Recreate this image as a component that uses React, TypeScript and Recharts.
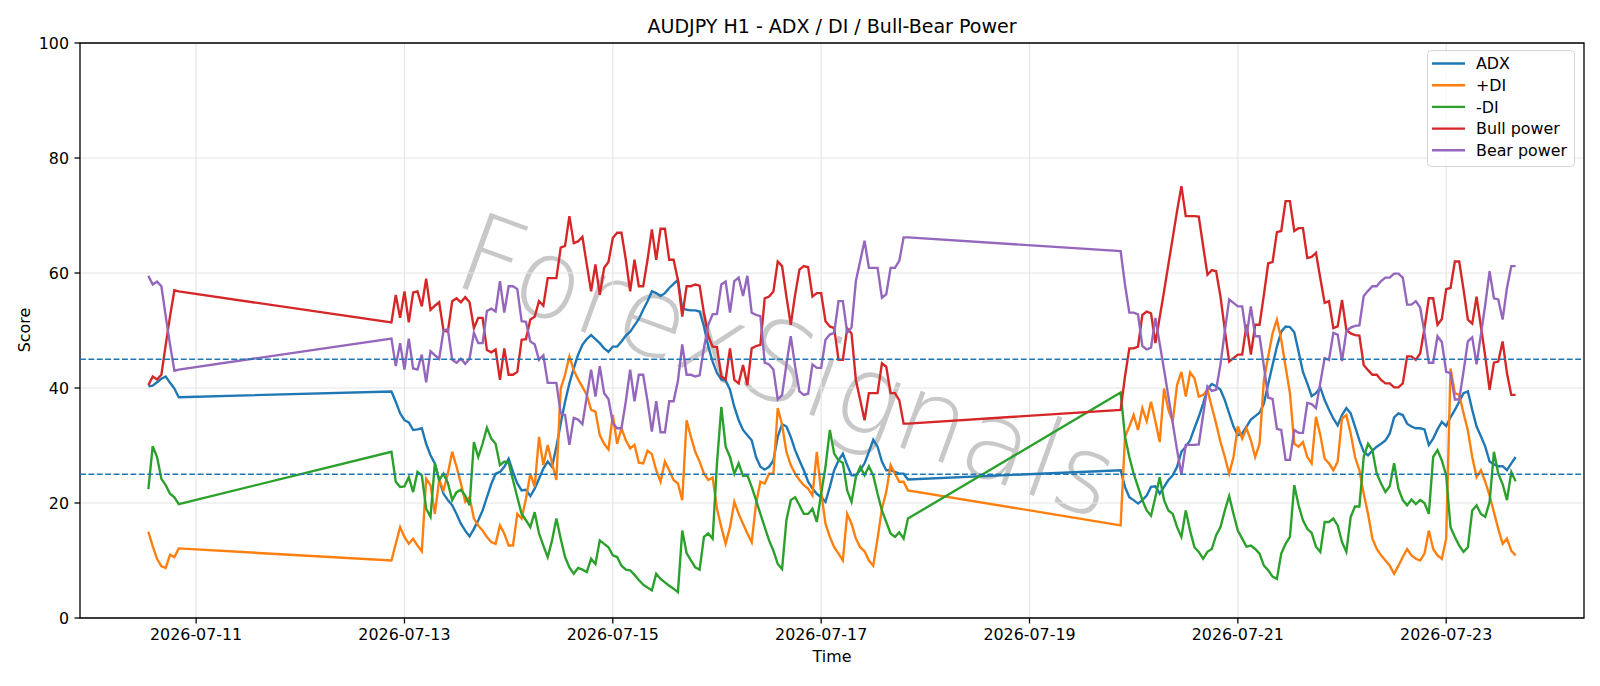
import React from "react"
import { CartesianGrid, Line, LineChart, ReferenceArea, ReferenceLine, XAxis, YAxis } from "recharts"

// H1 candles, grouped by trading session (weekend gaps between them)
const sessionStarts = ["2026-07-10T13:00:00Z", "2026-07-12T21:00:00Z", "2026-07-19T21:00:00Z"]

const adx = [
  [40.3, 40.4, 41.0, 41.6, 42.0, 40.9, 39.9, 38.4],
  [
    39.4, 37.6, 35.6, 34.4, 34.0, 32.7, 32.8, 33.0, 30.3, 28.3, 26.9, 24.0, 21.6, 20.5, 19.6, 18.1, 16.4, 15.2, 14.2, 15.5, 17.0, 18.7, 21.0, 23.3,
    25.1, 25.4, 26.3, 27.7, 25.4, 23.4, 22.2, 22.3, 21.2, 22.5, 24.2, 26.0, 27.2, 26.3, 29.8, 33.8, 37.6, 40.8, 43.4, 45.8, 47.5, 48.5, 49.2, 48.5,
    47.8, 46.9, 46.3, 47.2, 47.2, 48.1, 49.1, 49.8, 50.9, 52.0, 53.6, 55.1, 56.8, 56.5, 56.0, 56.5, 57.4, 58.1, 58.8, 53.9, 53.6, 53.5, 53.5, 53.3,
    50.7, 47.2, 44.6, 42.6, 41.5, 41.3, 39.7, 36.7, 34.4, 32.7, 31.8, 30.9, 28.0, 26.3, 25.8, 26.3, 27.4, 31.5, 33.7, 33.3, 31.5, 29.2, 27.4, 25.7,
    23.7, 22.5, 21.6, 21.0, 20.2, 22.8, 25.7, 27.4, 28.6, 26.6, 24.8, 24.8, 25.7, 26.9, 28.9, 31.0, 29.8, 27.2, 25.7, 25.7, 25.4, 25.1, 25.1, 24.1,
  ],
  [
    25.7, 22.8, 21.0, 20.5, 19.9, 20.5, 21.3, 22.8, 22.9, 21.6, 22.8, 24.0, 24.8, 26.3, 28.9, 29.8, 30.9, 33.0, 35.0, 37.3, 39.8, 40.7, 40.3, 39.7,
    37.9, 35.6, 33.3, 31.8, 32.1, 33.3, 34.5, 35.1, 35.7, 37.3, 40.7, 44.0, 47.2, 49.8, 50.7, 50.6, 49.7, 46.3, 42.8, 40.8, 38.6, 39.1, 40.1,
    37.9, 36.2, 34.7, 33.5, 35.3, 36.5, 35.6, 33.3, 30.9, 28.9, 28.3, 29.1, 29.8, 30.3, 30.9, 32.1, 34.9, 35.6, 35.3, 33.8, 33.3, 33.0, 33.0, 32.8,
    30.1, 31.2, 32.8, 34.1, 33.4, 34.9, 36.2, 37.6, 39.1, 39.4, 36.2, 33.3, 31.6, 29.8, 27.2, 26.7, 26.4, 26.4, 25.7, 26.9, 28.0,
  ],
]

const plusDi = [
  [15.0, 12.5, 10.3, 9.0, 8.7, 11.0, 10.6, 12.1],
  [
    10.0, 12.9, 15.8, 14.1, 12.9, 13.8, 12.6, 11.6, 24.2, 23.1, 18.1, 24.0, 22.2, 25.1, 28.9, 26.3, 23.4, 20.2, 21.0, 17.3, 16.1, 15.2, 14.1, 13.2,
    12.9, 16.1, 14.7, 12.6, 12.6, 18.1, 17.3, 20.8, 25.1, 22.8, 31.5, 26.6, 30.1, 26.9, 24.0, 39.9, 42.3, 45.5, 43.1, 41.5, 40.2, 38.8, 36.2, 35.9,
    31.8, 30.3, 29.3, 35.3, 30.3, 33.0, 30.9, 29.5, 30.1, 27.0, 26.9, 29.1, 28.5, 25.7, 23.7, 27.2, 25.7, 24.0, 23.4, 20.5, 34.4, 31.5, 28.9, 27.2,
    25.1, 24.0, 24.4, 19.0, 15.8, 12.9, 15.8, 20.2, 18.1, 16.4, 14.7, 13.2, 19.9, 23.7, 23.4, 25.1, 25.1, 36.5, 33.6, 28.9, 26.6, 25.1, 24.0, 23.1,
    22.5, 21.3, 28.9, 21.9, 16.4, 14.1, 12.3, 11.2, 10.0, 18.1, 16.4, 13.8, 12.3, 11.6, 10.0, 9.1, 13.8, 19.0, 21.9, 26.6, 25.1, 23.7, 23.7, 22.2,
  ],
  [
    16.1, 31.5, 33.3, 35.3, 32.7, 36.5, 34.2, 37.6, 34.2, 30.6, 39.9, 36.2, 34.2, 40.5, 42.8, 38.5, 42.7, 41.7, 38.5, 38.8, 39.7, 36.7, 33.8, 30.6,
    28.0, 25.1, 28.0, 33.3, 31.2, 33.0, 30.9, 28.0, 30.3, 41.4, 45.5, 49.5, 51.9, 48.4, 43.7, 39.1, 30.3, 29.8, 30.6, 28.0, 26.9, 35.0, 31.8,
    27.7, 26.9, 25.7, 27.2, 34.7, 35.3, 32.1, 28.0, 25.7, 21.6, 18.1, 13.8, 12.0, 10.9, 10.0, 9.1, 7.7, 9.1, 10.6, 12.0, 10.9, 10.3, 10.0, 11.2,
    15.2, 12.0, 10.9, 10.3, 13.8, 43.4, 39.1, 38.8, 35.6, 32.6, 28.0, 24.5, 25.7, 23.7, 21.3, 18.4, 15.5, 12.9, 13.8, 11.7, 10.9,
  ],
]

const minusDi = [
  [22.4, 29.9, 28.0, 24.2, 23.1, 21.6, 21.0, 19.8],
  [
    28.9, 23.7, 22.8, 22.9, 24.5, 21.9, 25.4, 24.8, 19.0, 17.6, 26.9, 24.0, 25.1, 23.5, 20.5, 21.9, 22.3, 21.3, 19.6, 30.6, 28.0, 30.3, 33.1, 31.2,
    30.3, 26.6, 27.2, 27.0, 24.0, 21.0, 18.1, 17.0, 15.8, 18.4, 14.7, 12.6, 10.6, 13.5, 17.3, 13.8, 10.6, 8.8, 7.7, 8.7, 8.4, 8.0, 10.3, 9.4,
    13.5, 12.9, 12.3, 10.9, 10.6, 9.1, 8.4, 8.3, 7.5, 6.6, 5.8, 5.3, 4.8, 7.7, 6.8, 6.2, 5.6, 5.1, 4.5, 15.2, 11.3, 10.0, 8.8, 8.4,
    14.1, 14.7, 13.8, 26.9, 36.7, 29.8, 28.0, 25.1, 26.9, 24.7, 24.8, 22.8, 20.5, 18.1, 15.8, 13.5, 11.7, 9.4, 8.5, 17.0, 20.5, 21.0, 19.6, 18.1,
    18.1, 19.0, 16.7, 21.6, 26.3, 32.7, 28.6, 27.4, 27.0, 22.2, 20.2, 24.5, 26.3, 24.8, 26.4, 24.8, 21.6, 18.7, 16.7, 14.7, 14.1, 14.9, 13.8, 17.3,
  ],
  [
    39.2, 31.5, 28.0, 25.1, 22.8, 20.5, 18.7, 17.8, 21.0, 24.5, 20.5, 18.7, 18.1, 15.8, 14.1, 18.7, 15.2, 12.3, 11.5, 10.3, 11.5, 12.0, 14.4, 15.8,
    18.7, 21.2, 18.1, 15.2, 13.8, 12.4, 12.6, 12.0, 11.2, 9.1, 8.3, 7.2, 6.8, 11.2, 12.9, 14.1, 23.1, 19.6, 17.0, 15.5, 14.8, 12.4, 11.5,
    16.7, 16.7, 17.3, 16.1, 13.2, 11.5, 17.6, 19.4, 19.4, 28.0, 30.3, 29.2, 25.1, 23.4, 21.9, 22.9, 26.9, 22.5, 20.5, 19.6, 20.6, 19.8, 20.5, 20.0,
    18.1, 28.0, 29.2, 27.4, 24.8, 15.8, 14.1, 12.6, 11.5, 12.3, 18.7, 19.6, 18.1, 17.6, 20.2, 28.9, 25.1, 23.3, 20.5, 25.4, 23.8,
  ],
]

const bullPower = [
  [40.5, 42.0, 41.5, 42.3, 47.5, 52.5, 57.0, 56.8],
  [
    51.4, 56.2, 52.2, 56.8, 51.4, 56.6, 56.8, 54.2, 59.0, 53.6, 54.3, 54.9, 50.0, 49.8, 55.1, 55.6, 54.9, 55.8, 54.9, 50.4, 52.2, 52.2, 46.6, 46.2,
    46.7, 41.4, 46.9, 42.3, 42.3, 42.8, 48.4, 48.5, 51.9, 52.4, 55.1, 54.3, 59.1, 59.1, 59.1, 64.4, 64.7, 69.9, 65.2, 65.5, 66.3, 61.5, 56.8, 61.5,
    56.2, 60.9, 61.9, 66.1, 67.0, 67.0, 62.3, 56.8, 62.3, 57.7, 57.7, 62.3, 67.6, 62.3, 67.7, 67.7, 62.3, 62.3, 58.8, 52.4, 57.7, 57.7, 58.0, 57.8,
    53.0, 49.0, 47.2, 47.1, 42.0, 41.5, 46.9, 41.4, 40.8, 44.0, 40.5, 46.9, 47.3, 47.5, 55.6, 55.9, 56.8, 62.0, 61.2, 55.9, 51.0, 56.2, 60.6, 61.2,
    61.0, 55.9, 56.5, 56.5, 51.6, 50.7, 50.4, 44.9, 44.9, 50.4, 49.5, 41.4, 37.9, 34.4, 39.1, 39.1, 39.1, 44.3, 43.7, 39.1, 39.1, 37.9, 33.8, 33.8,
  ],
  [
    36.2, 42.0, 46.9, 46.9, 47.2, 52.7, 53.3, 53.0, 47.8, 52.3, 56.8, 61.5, 66.1, 70.8, 75.1, 69.9, 69.9, 69.9, 69.8, 64.7, 59.7, 60.5, 60.3, 55.9,
    50.1, 44.6, 45.2, 45.8, 45.8, 51.0, 45.8, 51.0, 51.0, 56.2, 61.7, 61.9, 67.1, 67.3, 72.5, 72.5, 67.3, 67.8, 67.8, 62.6, 62.8, 63.5, 59.1,
    54.8, 55.1, 50.4, 50.7, 55.3, 50.1, 49.5, 49.2, 49.1, 44.0, 43.1, 42.3, 42.3, 41.4, 40.8, 40.8, 40.1, 40.1, 40.8, 45.5, 45.5, 44.9, 46.0, 50.4,
    55.6, 55.6, 51.0, 52.0, 57.2, 57.4, 62.0, 62.0, 57.1, 51.9, 51.2, 55.9, 50.7, 45.5, 39.7, 44.4, 44.6, 48.1, 42.6, 38.8, 38.8,
  ],
]

const bearPower = [
  [59.5, 58.0, 58.5, 57.7, 52.5, 47.5, 43.0, 43.2],
  [
    48.6, 43.8, 47.8, 43.2, 48.6, 43.4, 43.2, 45.8, 41.0, 46.4, 45.7, 45.1, 50.0, 50.2, 44.9, 44.4, 45.1, 44.2, 45.1, 49.6, 47.8, 47.8, 53.4, 53.8,
    53.3, 58.6, 53.1, 57.7, 57.7, 57.2, 51.6, 51.5, 48.1, 47.6, 44.9, 45.7, 40.9, 40.9, 40.9, 35.6, 35.3, 30.1, 34.8, 34.5, 33.7, 38.5, 43.2, 38.5,
    43.8, 39.1, 38.1, 33.9, 33.0, 33.0, 37.7, 43.2, 37.7, 42.3, 42.3, 37.7, 32.4, 37.7, 32.3, 32.3, 37.7, 37.7, 41.2, 47.6, 42.3, 42.3, 42.0, 42.2,
    47.0, 51.0, 52.8, 52.9, 58.0, 58.5, 53.1, 58.6, 59.2, 56.0, 59.5, 53.1, 52.7, 52.5, 44.4, 44.1, 43.2, 38.0, 38.8, 44.1, 49.0, 43.8, 39.4, 38.8,
    39.0, 44.1, 43.5, 43.5, 48.4, 49.3, 49.6, 55.1, 55.1, 49.6, 50.5, 58.6, 62.1, 65.6, 60.9, 60.9, 60.9, 55.7, 56.3, 60.9, 60.9, 62.1, 66.2, 66.2,
  ],
  [
    63.8, 58.0, 53.1, 53.1, 52.8, 47.3, 46.7, 47.0, 52.2, 47.7, 43.2, 38.5, 33.9, 29.2, 24.9, 30.1, 30.1, 30.1, 30.2, 35.3, 40.3, 39.5, 39.7, 44.1,
    49.9, 55.4, 54.8, 54.2, 54.2, 49.0, 54.2, 49.0, 49.0, 43.8, 38.3, 38.1, 32.9, 32.7, 27.5, 27.5, 32.7, 32.2, 32.2, 37.4, 37.2, 36.5, 40.9,
    45.2, 44.9, 49.6, 49.3, 44.7, 49.9, 50.5, 50.8, 50.9, 56.0, 56.9, 57.7, 57.7, 58.6, 59.2, 59.2, 59.9, 59.9, 59.2, 54.5, 54.5, 55.1, 54.0, 49.6,
    44.4, 44.4, 49.0, 48.0, 42.8, 42.6, 38.0, 38.0, 42.9, 48.1, 48.8, 44.1, 49.3, 54.5, 60.3, 55.6, 55.4, 51.9, 57.4, 61.2, 61.2,
  ],
]

const dateTicks = ["2026-07-11", "2026-07-13", "2026-07-15", "2026-07-17", "2026-07-19", "2026-07-21", "2026-07-23"]
const scoreTicks = [0, 20, 40, 60, 80, 100]
const levels = [25, 45]

const series = [
  { key: "adx", name: "ADX", color: "#1f77b4" },
  { key: "pdi", name: "+DI", color: "#ff7f0e" },
  { key: "mdi", name: "-DI", color: "#2ca02c" },
  { key: "bull", name: "Bull power", color: "#d62728" },
  { key: "bear", name: "Bear power", color: "#9467bd" },
]

// x is measured in hours from 2026-07-13 00:00 UTC
const ORIGIN = Date.UTC(2026, 6, 13)
const HOUR = 3600 * 1000
const toHours = (iso: string) => (Date.parse(iso) - ORIGIN) / HOUR

const rows: any[] = []
sessionStarts.forEach((start, s) => {
  const t0 = toHours(start)
  adx[s].forEach((v, i) => {
    rows.push({
      t: t0 + i,
      adx: v,
      pdi: plusDi[s][i],
      mdi: minusDi[s][i],
      bull: bullPower[s][i],
      bear: bearPower[s][i],
    })
  })
})

const tickHours = dateTicks.map(d => toHours(d + "T00:00:00Z"))
const tFirst = rows[0].t
const tLast = rows[rows.length - 1].t
const pad = (tLast - tFirst) * 0.05
const xDomain = [tFirst - pad, tLast + pad]

const FONT = "'DejaVu Sans', sans-serif"
const W = 1600
const H = 686
const PT = 114.29 / 72 // px per point
const FS = 10 * PT

// legend drawn as its own little svg so the handles stay crisp
const LegendBox = () => (
  <svg width={W} height={H} style={{ position: "absolute", left: 0, top: 0 }} fontFamily={FONT}>
    <rect x={1427.5} y={50.5} width={147} height={116} rx={4} fill="#fff" fillOpacity={0.8} stroke="#d4d4d4" strokeWidth={1} />
    {series.map((s, i) => {
      const cy = 63.5 + i * 21.7
      return (
        <g key={s.key}>
          <line x1={1432} x2={1465} y1={cy} y2={cy} stroke={s.color} strokeWidth={1.5 * PT} />
          <text x={1476} y={cy} dy="0.36em" fontSize={FS} fill="#000">{s.name}</text>
        </g>
      )
    })}
  </svg>
)

const Watermark = () => (
  <svg width={W} height={H} style={{ position: "absolute", left: 0, top: 0 }}>
    <text
      x={788} y={366}
      textAnchor="middle"
      dominantBaseline="central"
      transform="rotate(20 788 366)"
      fontFamily={FONT}
      fontWeight={200}
      fontSize={110}
      fill="#c8c8c8">
      ForexSignals
    </text>
  </svg>
)

const Labels = () => (
  <svg width={W} height={H} style={{ position: "absolute", left: 0, top: 0 }} fontFamily={FONT}>
    <text x={832} y={33} textAnchor="middle" fontSize={12 * PT} fill="#000">
      AUDJPY H1 - ADX / DI / Bull-Bear Power
    </text>
    <text x={832} y={662} textAnchor="middle" fontSize={FS} fill="#000">Time</text>
    <text transform="translate(30 330) rotate(-90)" textAnchor="middle" fontSize={FS} fill="#000">Score</text>
  </svg>
)

export default function App() {
  return (
    <div style={{ position: "absolute", left: 0, top: 0, width: W, height: H, background: "#fff", fontFamily: FONT }}>
      <Watermark />
      <div style={{ position: "absolute", left: 0, top: 0 }}>
        <LineChart width={W} height={H} data={rows} margin={{ top: 43, right: 16, bottom: 0, left: 0 }}>
          <CartesianGrid stroke="#e6e6e6" strokeWidth={1.2} />
          <XAxis
            dataKey="t"
            type="number"
            domain={xDomain}
            ticks={tickHours}
            tickFormatter={(v: number) => dateTicks[tickHours.indexOf(v)] ?? ""}
            height={68}
            tickSize={5.5}
            tickMargin={5}
            tick={{ fill: "#000", fontSize: FS }}
            tickLine={{ stroke: "#000", strokeWidth: 1.27 }}
            axisLine={false}
            interval={0}
          />
          <YAxis
            type="number"
            domain={[0, 100]}
            ticks={scoreTicks}
            width={80}
            tickSize={5.5}
            tickMargin={5.5}
            tick={{ fill: "#000", fontSize: FS }}
            tickLine={{ stroke: "#000", strokeWidth: 1.27 }}
            axisLine={false}
            interval={0}
          />
          {series.map(s => (
            <Line
              key={s.key}
              dataKey={s.key}
              name={s.name}
              type="linear"
              stroke={s.color}
              strokeWidth={1.5 * PT}
              dot={false}
              activeDot={false}
              isAnimationActive={false}
            />
          ))}
          {levels.map(l => (
            <ReferenceLine key={l} y={l} stroke="#1f77b4" strokeWidth={PT} strokeDasharray="5.9 2.5" />
          ))}
          <ReferenceArea x1={xDomain[0]} x2={xDomain[1]} y1={0} y2={100} fill="none" fillOpacity={0} stroke="#000" strokeWidth={1.27} />
        </LineChart>
      </div>
      <Labels />
      <LegendBox />
    </div>
  )
}
